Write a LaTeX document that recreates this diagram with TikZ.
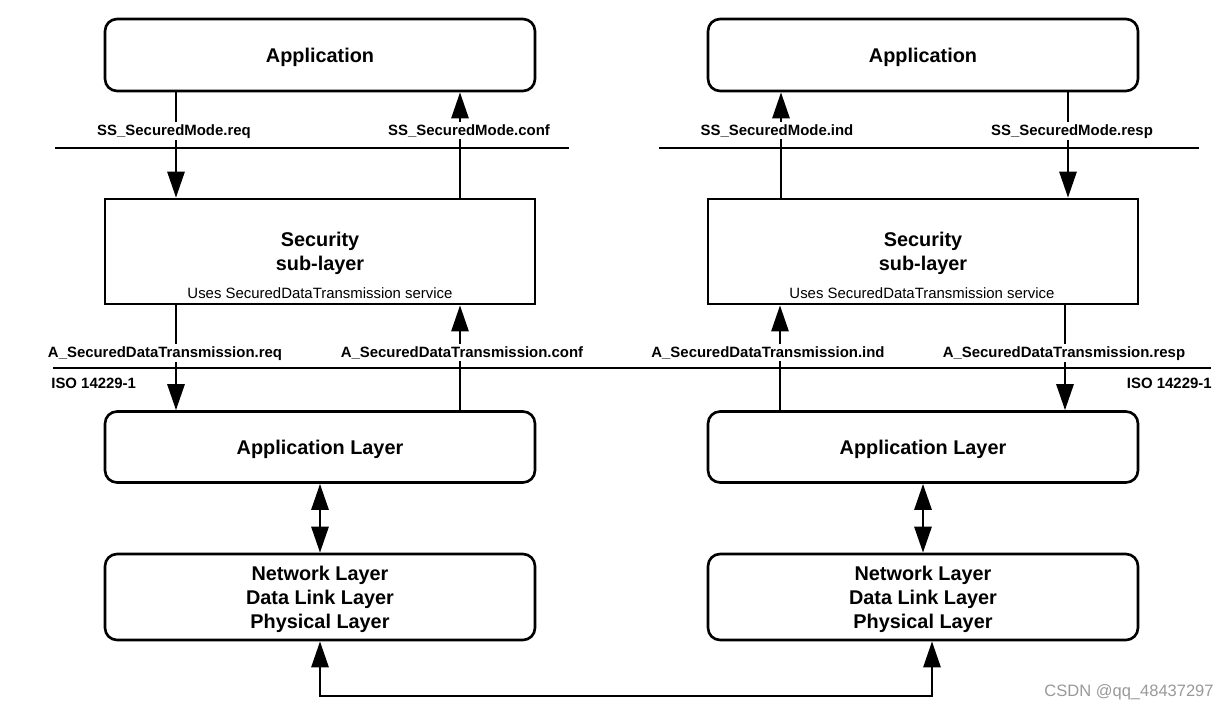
\documentclass[tikz,border=0pt]{standalone}
\usepackage{fontspec}
\setmainfont{Liberation Sans}
\usetikzlibrary{arrows.meta}

\tikzset{
  box/.style={draw=black,line width=1.5pt,minimum width=8.6cm},
  rbox/.style={box,rounded corners=0.24cm},
  big/.style={font=\bfseries\fontsize{11.3}{13.6}\selectfont,align=center,inner sep=0pt},
  small/.style={font=\fontsize{8.5}{10}\selectfont,inner sep=0pt,anchor=base},
  sig/.style={font=\bfseries\fontsize{8.5}{10}\selectfont,fill=white,inner sep=1pt,anchor=base},
  iso/.style={font=\bfseries\fontsize{8.5}{10}\selectfont,inner sep=0pt},
  arr/.style={line width=1.6pt,-{Triangle[length=0.52cm,width=0.34cm]}},
  darr/.style={line width=1.6pt,{Triangle[length=0.52cm,width=0.34cm]}-{Triangle[length=0.52cm,width=0.34cm]}},
  sep/.style={line width=1.5pt}
}

\begin{document}
\begin{tikzpicture}[x=0.02cm,y=-0.02cm]

\useasboundingbox (0,0) rectangle (1231,708);

% left stack
\begin{scope}
\node[rbox,minimum height=1.44cm] (lapp) at (320,55) {};
\node[box,minimum height=2.1cm] (lsec) at (320,251.5) {};
\node[rbox,minimum height=1.42cm] (llay) at (320,447) {};
\node[rbox,minimum height=1.72cm] (lnet) at (320,597) {};

\node[big] (lapp-t) at (320,57) {Application};
\node[big] (lsec-t) at (320,253) {Security\\sub-layer};
\node[small] (lsec-u) at (320,298) {Uses SecuredDataTransmission service};
\node[big] (llay-t) at (320,449) {Application Layer};
\node[big] (lnet-t) at (320,599) {Network Layer\\Data Link Layer\\Physical Layer};

\coordinate (lreq) at (176,0);
\coordinate (lconf) at (460,0);
\end{scope}

% right stack
\begin{scope}
\node[rbox,minimum height=1.44cm] (rapp) at (923,55) {};
\node[box,minimum height=2.1cm] (rsec) at (923,251.5) {};
\node[rbox,minimum height=1.42cm] (rlay) at (923,447) {};
\node[rbox,minimum height=1.72cm] (rnet) at (923,597) {};

\node[big] (rapp-t) at (923,57) {Application};
\node[big] (rsec-t) at (923,253) {Security\\sub-layer};
\node[small] (rsec-u) at (922,298) {Uses SecuredDataTransmission service};
\node[big] (rlay-t) at (923,449) {Application Layer};
\node[big] (rnet-t) at (923,599) {Network Layer\\Data Link Layer\\Physical Layer};

\coordinate (rind) at (781,0);
\coordinate (rresp) at (1068,0);
\coordinate (rind2) at (780,0);
\coordinate (rresp2) at (1065,0);
\end{scope}

% service boundaries
\draw[sep] (55,148) -- (569,148);
\draw[sep] (659,148) -- (1199,148);
\draw[sep] (53,368) -- (1211,368);

% primitives
\draw[arr] (lapp.south -| lreq) -- (lsec.north -| lreq);
\draw[arr] (lsec.north -| lconf) -- (lapp.south -| lconf);
\draw[arr] (lsec.south -| lreq) -- (llay.north -| lreq);
\draw[arr] (llay.north -| lconf) -- (lsec.south -| lconf);

\draw[arr] (rsec.north -| rind) -- (rapp.south -| rind);
\draw[arr] (rapp.south -| rresp) -- (rsec.north -| rresp);
\draw[arr] (rlay.north -| rind2) -- (rsec.south -| rind2);
\draw[arr] (rsec.south -| rresp2) -- (rlay.north -| rresp2);

\node[sig] (ssreq) at (174,135) {SS\_SecuredMode.req};
\node[sig] (ssconf) at (469,135) {SS\_SecuredMode.conf};
\node[sig] (ssind) at (777,135) {SS\_SecuredMode.ind};
\node[sig] (ssresp) at (1072,135) {SS\_SecuredMode.resp};

\node[sig] (areq) at (165,357) {A\_SecuredDataTransmission.req};
\node[sig] (aconf) at (462,357) {A\_SecuredDataTransmission.conf};
\node[sig] (aind) at (768,357) {A\_SecuredDataTransmission.ind};
\node[sig] (aresp) at (1064,357) {A\_SecuredDataTransmission.resp};

\node[iso,anchor=base west] (liso) at (51,388) {ISO 14229-1};
\node[iso,anchor=base east] (riso) at (1212,388) {ISO 14229-1};

% lower layers
\draw[darr] (llay.south) -- (lnet.north);
\draw[darr] (rlay.south) -- (rnet.north);

\coordinate (bus) at (932,696);
\draw[darr] (lnet.south) |- (bus) -- (rnet.south -| bus);

\node[font=\fontsize{9.4}{11}\selectfont,text=gray!80,inner sep=0pt,anchor=base east] (csdn) at (1214,696) {CSDN @qq\_48437297};

\end{tikzpicture}
\end{document}
